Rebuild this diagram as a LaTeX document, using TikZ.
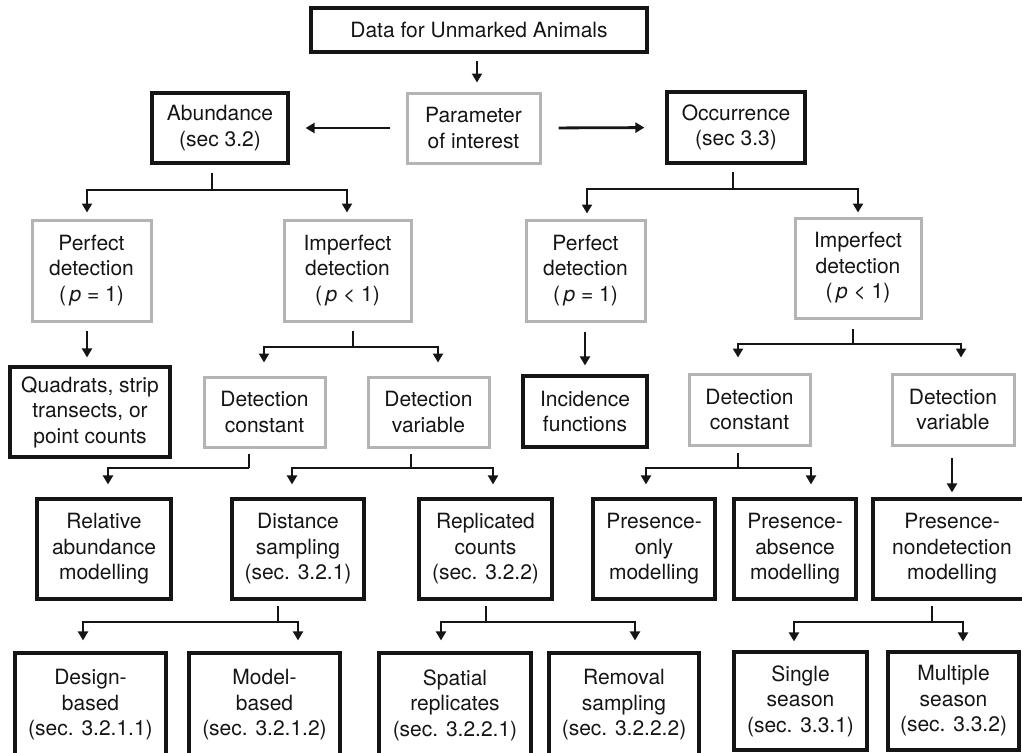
\documentclass[tikz,border=0pt]{standalone}
\usepackage{fontspec}
\setmainfont{TeX Gyre Heros}
\usetikzlibrary{arrows.meta,calc}
\definecolor{ink}{HTML}{151515}
\definecolor{lgray}{HTML}{B4B4B4}
\begin{document}
\begin{tikzpicture}[x=1pt,y=-1pt,
  every node/.style={font=\fontsize{21}{25.5}\selectfont, text=ink, align=center, inner sep=0pt},
  blk/.style={draw=ink, line width=3.2pt},
  gry/.style={draw=lgray, line width=3pt},
  sz/.style 2 args={minimum width=#1pt, minimum height=#2pt},
  ln/.style={draw=ink, line width=2.8pt},
  arr/.style={ln, -{Triangle[length=9pt,width=10pt]}}]
\path[use as bounding box] (0,0) rectangle (1022,752);
\clip (0,0) rectangle (1022,752);

% nodes
\node[blk, sz={336}{44}] (data) at (479,30) {Data for Unmarked Animals};
\node[gry, sz={133}{70}] (param) at (473.5,128) {Parameter\\of interest};
\node[blk, sz={136}{70}] (abund) at (220,128) {Abundance\\(sec 3.2)};
\node[blk, sz={138}{71}] (occ) at (736,127.5) {Occurrence\\(sec 3.3)};

\node[gry, sz={119}{101}] (pd1) at (91.5,270.5) {Perfect\\detection\\(\,\textit{p} = 1)};
\node[gry, sz={127}{101}] (id1) at (347.5,270.5) {Imperfect\\detection\\(\,\textit{p} < 1)};
\node[gry, sz={119}{101}] (pd2) at (585.5,270.5) {Perfect\\detection\\(\,\textit{p} = 1)};
\node[gry, sz={126}{100}] (id2) at (858,268) {Imperfect\\detection\\(\,\textit{p} < 1)};

\node[blk, sz={160}{90}] (quad) at (90,412) {Quadrats, strip\\transects, or\\point counts};
\node[gry, sz={121}{70}] (dc1) at (264.5,412) {Detection\\constant};
\node[gry, sz={121}{70}] (dv1) at (428.5,412) {Detection\\variable};
\node[blk, sz={124}{71}] (inc) at (585,411.5) {Incidence\\functions};
\node[gry, sz={121}{71}] (dc2) at (749.5,409.5) {Detection\\constant};
\node[gry, sz={122}{71}] (dv2) at (953,409.5) {Detection\\variable};

\node[blk, sz={134}{100}] (rel) at (104,549) {Relative\\abundance\\modelling};
\node[blk, sz={132}{100}] (dist) at (298,549) {Distance\\sampling\\(sec. 3.2.1)};
\node[blk, sz={133}{100}] (rep) at (485.5,549) {Replicated\\counts\\(sec. 3.2.2)};
\node[blk, sz={122}{100}] (po) at (654,549) {Presence-\\only\\modelling};
\node[blk, sz={122}{100}] (pa) at (795,549) {Presence-\\absence\\modelling};
\node[blk, sz={158}{100}] (pn) at (952,549) {Presence-\\nondetection\\modelling};

\node[blk, sz={151}{104}] (des) at (90.5,705) {Design-\\based\\(sec. 3.2.1.1)};
\node[blk, sz={151}{104}] (mod) at (264.5,705) {Model-\\based\\(sec. 3.2.1.2)};
\node[blk, sz={152}{104}] (spa) at (455,705) {Spatial\\replicates\\(sec. 3.2.2.1)};
\node[blk, sz={150}{104}] (rem) at (624,705) {Removal\\sampling\\(sec. 3.2.2.2)};
\node[blk, sz={133}{98}] (sin) at (800.5,701) {Single\\season\\(sec. 3.3.1)};
\node[blk, sz={131}{98}] (mul) at (953.5,701) {Multiple\\season\\(sec. 3.3.2)};

% top connectors
\draw[arr, shorten <=7pt, shorten >=9pt] ([xshift=-2pt]data.south) -- ([xshift=3.5pt]param.north);
\draw[arr, shorten <=16pt, shorten >=16pt] (param.west) -- (abund.east);
\draw[arr, shorten <=17pt, shorten >=21pt] (param.east) -- (occ.west);

% junctions
\coordinate (j1) at (212,190);
\coordinate (j2) at (733,189);
\coordinate (j4) at (353,347);
\coordinate (j6) at (853,344);
\coordinate (j7) at (249,468);
\coordinate (j8) at (411,468);
\coordinate (j9) at (738,468);
\coordinate (j11) at (278,622);
\coordinate (j12) at (486,622);
\coordinate (j13) at (932,622);

% T1 abundance
\draw[ln, shorten <=8pt] (abund.south -| j1) -- (j1);
\draw[arr, shorten >=6pt] (j1) -| ([xshift=-4.5pt]pd1.north);
\draw[arr, shorten >=6pt] (j1) -| ([xshift=-0.5pt]id1.north);
% T2 occurrence
\draw[ln, shorten <=7pt] (occ.south -| j2) -- (j2);
\draw[arr, shorten >=5pt] (j2) -| ([xshift=1.5pt]pd2.north);
\draw[arr, shorten >=4pt] (j2) -| (id2.north);
% T3
\draw[arr, shorten <=8pt, shorten >=8pt] ([xshift=-4.5pt]pd1.south) -- ([xshift=-3pt]quad.north);
% T4
\draw[ln, shorten <=8pt] (id1.south -| j4) -- (j4);
\draw[arr, shorten >=13pt] (j4) -| ([xshift=-0.5pt]dc1.north);
\draw[arr, shorten >=13pt] (j4) -| ([xshift=9.5pt]dv1.north);
% T5
\draw[arr, shorten <=9pt, shorten >=9pt] ([xshift=-0.5pt]pd2.south) -- (inc.north);
% T6
\draw[ln, shorten <=9pt] (id2.south -| j6) -- (j6);
\draw[arr, shorten >=15pt] (j6) -| ([xshift=-11.5pt]dc2.north);
\draw[arr, shorten >=15pt] (j6) -| ([xshift=8pt]dv2.north);
% T7
\draw[ln, shorten <=5pt] (dc1.south -| j7) -- (j7);
\draw[arr, shorten >=13pt] (j7) -| ([xshift=4pt]rel.north);
% T8
\draw[ln, shorten <=5pt] (dv1.south -| j8) -- (j8);
\draw[arr, shorten >=13pt] (j8) -| ([xshift=-6pt]dist.north);
\draw[arr, shorten >=13pt] (j8) -| ([xshift=7.5pt]rep.north);
% T9
\draw[ln, shorten <=6pt] (dc2.south -| j9) -- (j9);
\draw[arr, shorten >=13pt] (j9) -| ([xshift=-8pt]po.north);
\draw[arr, shorten >=13pt] (j9) -| ([xshift=16pt]pa.north);
% T10
\draw[arr, shorten <=11pt, shorten >=5pt] ([xshift=-1pt]dv2.south) -- (pn.north);
% T11
\draw[ln, shorten <=5pt] (dist.south -| j11) -- (j11);
\draw[arr, shorten >=11pt] (j11) -| ([xshift=-7.5pt]des.north);
\draw[arr, shorten >=11pt] (j11) -| ([xshift=33.5pt]mod.north);
% T12
\draw[ln, shorten <=5pt] (rep.south -| j12) -- (j12);
\draw[arr, shorten >=11pt] (j12) -| ([xshift=-14pt]spa.north);
\draw[arr, shorten >=11pt] (j12) -| ([xshift=11pt]rem.north);
% T13
\draw[ln, shorten <=5pt] (pn.south -| j13) -- (j13);
\draw[arr, shorten >=9pt] (j13) -| ([xshift=-6.5pt]sin.north);
\draw[arr, shorten >=9pt] (j13) -| ([xshift=9.5pt]mul.north);
\end{tikzpicture}
\end{document}
